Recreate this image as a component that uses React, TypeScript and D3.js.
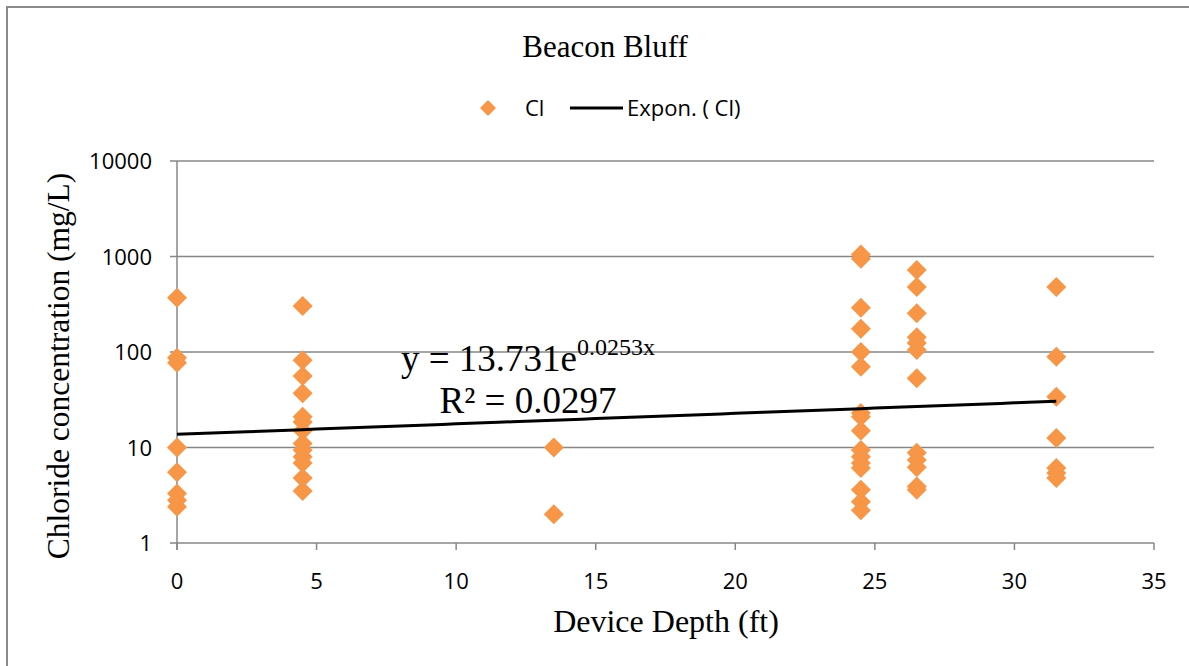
import React from "react";
import * as d3 from "d3";

const depths = [
  0, 0, 0, 0, 0, 0, 0, 0,
  4.5, 4.5, 4.5, 4.5, 4.5, 4.5, 4.5, 4.5, 4.5, 4.5, 4.5, 4.5, 4.5,
  13.5, 13.5,
  24.5, 24.5, 24.5, 24.5, 24.5, 24.5, 24.5, 24.5, 24.5, 24.5, 24.5, 24.5, 24.5, 24.5, 24.5, 24.5,
  26.5, 26.5, 26.5, 26.5, 26.5, 26.5, 26.5, 26.5, 26.5, 26.5, 26.5, 26.5,
  31.5, 31.5, 31.5, 31.5, 31.5, 31.5, 31.5,
];
const chloride = [
  370, 87, 77, 10, 5.5, 3.3, 2.8, 2.4,
  303, 82, 56, 37, 21, 18.5, 15, 11, 9.4, 8, 6.9, 4.8, 3.5,
  10, 2,
  1050, 950, 290, 175, 100, 70, 23, 21, 15, 9.4, 8, 6.9, 6.1, 3.6, 2.7, 2.2,
  720, 480, 255, 143, 124, 105, 53, 8.8, 7.4, 6.2, 3.9, 3.6,
  480, 89, 34, 12.6, 6.1, 5.4, 4.8,
];
const xTicks = [0, 5, 10, 15, 20, 25, 30, 35];
const yTicks = [1, 10, 100, 1000, 10000];
const trendA = 13.731;
const trendB = 0.0253;
const trendX = [0, 31.5];

const W = 1189;
const H = 666;
const M = { left: 177, right: 1154, top: 161, bottom: 543 };
const serif = "'Liberation Serif', 'DejaVu Serif', serif";
const sans = "'Open Sans', 'Liberation Sans', sans-serif";
const orange = "#F79646";
const grid = "#878787";

export default function App() {
  const x = d3.scaleLinear().domain([0, 35]).range([M.left, M.right]);
  const y = d3.scaleLog().domain([1, 10000]).range([M.bottom, M.top]);
  const diamond = "M0,-10L10,0L0,10L-10,0Z";
  const trendPts = d3.range(trendX[0], trendX[1] + 0.001, 0.5).map((v) => [v, trendA * Math.exp(trendB * v)]);
  const line = d3
    .line<number[]>()
    .x((d) => x(d[0]))
    .y((d) => y(d[1]));

  return (
    <div style={{ position: "fixed", left: 0, top: 0, width: W, height: H, background: "#fff" }}>
      <svg width={W} height={H}>
        <rect x={7} y={7} width={W + 10} height={H + 10} fill="#fff" stroke="#8a8a8a" strokeWidth={2} />
        <text x={605} y={57} textAnchor="middle" fontFamily={serif} fontSize={31}>
          Beacon Bluff
        </text>
        {/* legend */}
        <path d="M0,-8L8,0L0,8L-8,0Z" transform="translate(488,108)" fill={orange} />
        <text x={525} y={116} fontFamily={sans} fontSize={22}>
          Cl
        </text>
        <line x1={570} x2={623} y1={108} y2={108} stroke="#000" strokeWidth={3} />
        <text x={627} y={116} fontFamily={sans} fontSize={22}>
          Expon. ( Cl)
        </text>
        {/* gridlines */}
        {yTicks.map((t) => (
          <g key={"y" + t}>
            <line x1={M.left - 7} x2={M.right} y1={y(t)} y2={y(t)} stroke={grid} strokeWidth={1.5} />
            <text x={152} y={y(t) + 8} textAnchor="end" fontFamily={sans} fontSize={22}>
              {t}
            </text>
          </g>
        ))}
        <line x1={M.left} x2={M.left} y1={M.top} y2={M.bottom + 7} stroke={grid} strokeWidth={1.5} />
        {xTicks.map((t) => (
          <g key={"x" + t}>
            <line x1={x(t)} x2={x(t)} y1={M.bottom} y2={M.bottom + 7} stroke={grid} strokeWidth={1.5} />
            <text x={x(t)} y={589} textAnchor="middle" fontFamily={sans} fontSize={22}>
              {t}
            </text>
          </g>
        ))}
        {depths.map((d, i) => (
          <path key={i} d={diamond} transform={`translate(${x(d)},${y(chloride[i])})`} fill={orange} />
        ))}
        <path d={line(trendPts) || ""} fill="none" stroke="#000" strokeWidth={3} />
        <text x={528} y={371} textAnchor="middle" fontFamily={serif} fontSize={37}>
          y = 13.731e<tspan dy={-16} fontSize={24}>0.0253x</tspan>
        </text>
        <text x={528} y={413} textAnchor="middle" fontFamily={serif} fontSize={37}>
          R² = 0.0297
        </text>
        <text x={666} y={632} textAnchor="middle" fontFamily={serif} fontSize={32}>
          Device Depth (ft)
        </text>
        <text
          transform="translate(69,366) rotate(-90)"
          textAnchor="middle"
          fontFamily={serif}
          fontSize={31.5}
        >
          Chloride concentration (mg/L)
        </text>
      </svg>
    </div>
  );
}
